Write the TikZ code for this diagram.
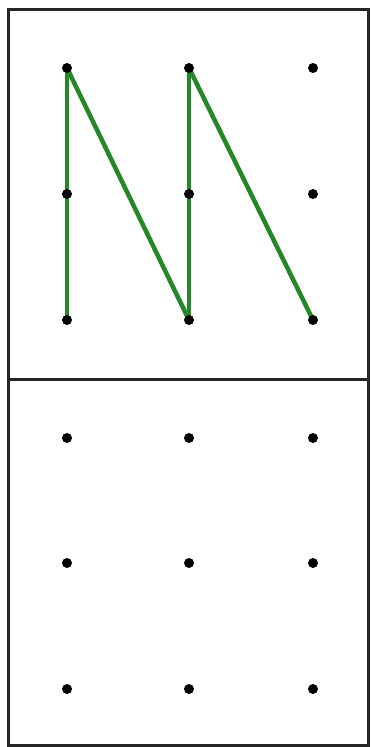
\documentclass[tikz,border=0pt]{standalone}
\definecolor{lineg}{RGB}{36,135,40}
\begin{document}
\begin{tikzpicture}[x=1pt,y=-1pt,
  dotn/.style={circle,fill=black,inner sep=0pt,minimum size=10pt},
  seg/.style={draw=lineg,line width=4.5pt,line cap=round},
  frame/.style={draw=black!85,line width=3pt}]
\useasboundingbox (0,0) rectangle (370,747);
\draw[frame] (8,9) rectangle (368,379);
\draw[frame] (8,379) rectangle (368,745);
\foreach \i/\x in {1/67,2/189,3/313}{
  \foreach \j/\y in {1/68,2/194,3/320}{
    \coordinate (t\i\j) at (\x,\y);
  }
  \foreach \j/\y in {1/438,2/563,3/689}{
    \node[dotn] (b\i\j) at (\x,\y) {};
  }
}
\draw[seg] (t11) -- (t13);
\draw[seg] (t11) -- (t23);
\draw[seg] (t21) -- (t23);
\draw[seg] (t21) -- (t33);
\foreach \i in {1,2,3}{
  \foreach \j in {1,2,3}{
    \node[dotn] (d\i\j) at (t\i\j) {};
  }
}
\end{tikzpicture}
\end{document}
